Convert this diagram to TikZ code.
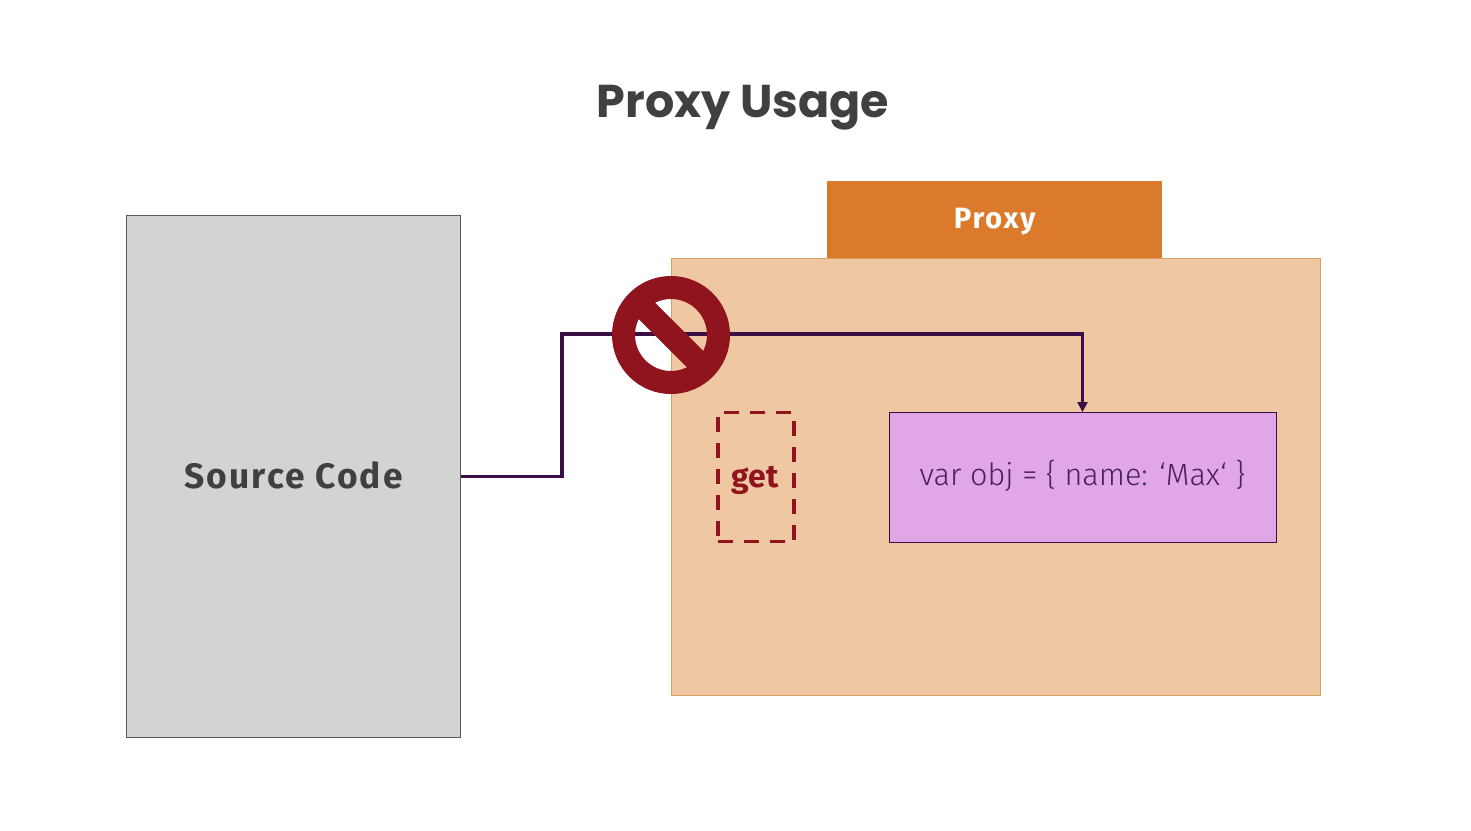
\documentclass[tikz,border=0pt]{standalone}
\usepackage{fontspec}
\setmainfont{Fira Sans}
\newfontfamily\titlefont{Poppins}[UprightFont=* Bold]
\newfontfamily\lightfont{Fira Sans Light}
\newfontfamily\spacedfont{Fira Sans}[UprightFont=* Bold,LetterSpace=6]
\usetikzlibrary{arrows.meta}
\definecolor{inktitle}{HTML}{404040}
\definecolor{greyfill}{HTML}{D3D3D3}
\definecolor{greyline}{HTML}{5A5A5A}
\definecolor{peach}{HTML}{EFC7A2}
\definecolor{peachline}{HTML}{D9A05F}
\definecolor{orangebox}{HTML}{DC7A2B}
\definecolor{pinkfill}{HTML}{E1A6E6}
\definecolor{plum}{HTML}{3B0F45}
\definecolor{plumtext}{HTML}{4A2060}
\definecolor{banred}{HTML}{8F141E}
\tikzset{
  box/.style={rectangle,inner sep=0pt,outer sep=0pt,draw,line width=.75pt},
  link/.style={draw=plum,line width=2.6pt,-{Triangle[length=7.5pt,width=7.5pt]}},
}
\begin{document}
\begin{tikzpicture}[x=.75pt,y=-.75pt]
\useasboundingbox (0,0) rectangle (1471,831);
\fill[white] (0,0) rectangle (1471,831);
\node[inner sep=0pt,text=inktitle,font=\titlefont\fontsize{34.5}{40}\selectfont] (title) at (743,108) {Proxy Usage};
\node[box,fill=greyfill,draw=greyline,minimum width=250.5pt,minimum height=391.5pt,text=inktitle,text height=17.8pt,text depth=0pt,font=\spacedfont\fontsize{26.5}{30}\selectfont] (source) at (293.5,476.5) {Source Code};
\node[box,fill=peach,draw=peachline,minimum width=486.75pt,minimum height=327.75pt] (body) at (995.5,476.5) {};
\node[rectangle,inner sep=0pt,outer sep=0pt,fill=orangebox,minimum width=251.25pt,minimum height=57.75pt,text=white,text height=12.8pt,text depth=0pt,font=\spacedfont\fontsize{22}{26}\selectfont] (tab) at (994.7,219.5) {Proxy};
\node[box,fill=pinkfill,draw=plum,minimum width=290.25pt,minimum height=97.5pt,text=plumtext,text height=13.2pt,text depth=0pt,font=\lightfont\fontsize{23}{28}\selectfont] (obj) at (1082.5,477) {var obj = \{ name: ‘Max‘ \}};
\node[rectangle,inner sep=0pt,outer sep=0pt,draw=banred,line width=2.6pt,dash pattern=on 11.25pt off 8.25pt,minimum width=57pt,minimum height=97pt,text=banred,text height=15pt,text depth=0pt,font=\fontsize{24}{30}\selectfont\bfseries] (get) at (756,477) {\hspace{-1pt}get};
\coordinate (bendA) at (562,476.5);
\coordinate (bendB) at (562,334);
\coordinate (bendC) at (1082.5,334);
\draw[link] (source.east |- bendA) -- (bendA) -- (bendB) -- (bendC) -- (obj.north);
\node[circle,draw=banred,line width=17.25pt,fill=none,inner sep=0pt,minimum size=71.25pt,outer sep=0pt] (ban) at (671,335) {};
\draw[banred,line width=17.25pt] (ban.135) -- (ban.-45);
\end{tikzpicture}
\end{document}
